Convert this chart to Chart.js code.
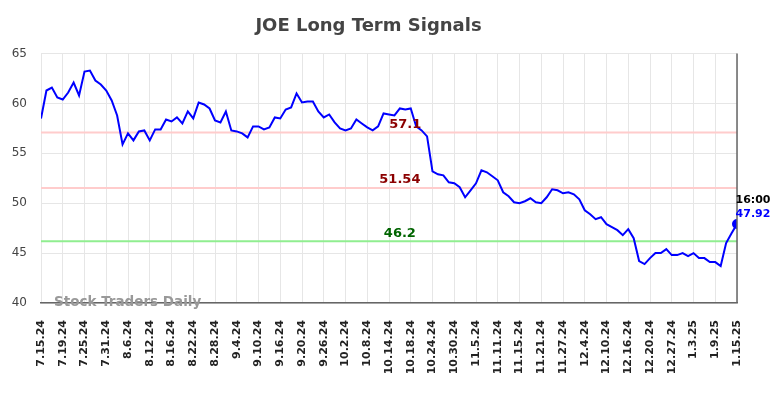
<!DOCTYPE html>
<html>
<head>
<meta charset="utf-8">
<script src="https://cdn.jsdelivr.net/npm/chart.js@4.4.0/dist/chart.umd.min.js"></script>
<style>
  html, body { margin: 0; padding: 0; background: #fff; }
  #wrap { width: 784px; height: 398px; }
</style>
</head>
<body>
<div id="wrap"><canvas id="myChart" width="784" height="398"></canvas></div>
<script>
const tickLabels = ["7.15.24", "7.19.24", "7.25.24", "7.31.24", "8.6.24", "8.12.24", "8.16.24", "8.22.24", "8.28.24",
    "9.4.24", "9.10.24", "9.16.24", "9.20.24", "9.26.24", "10.2.24", "10.8.24", "10.14.24", "10.18.24", "10.24.24",
    "10.30.24", "11.5.24", "11.11.24", "11.15.24", "11.21.24", "11.27.24", "12.4.24", "12.10.24", "12.16.24",
    "12.20.24", "12.27.24", "1.3.25", "1.9.25", "1.15.25"];

// closing prices, one per trading day
const prices = [58.5, 61.3, 61.6, 60.6, 60.4, 61.1, 62.1, 60.8, 63.2, 63.3,
    62.3, 61.9, 61.3, 60.3, 58.8, 55.9, 57.0, 56.3, 57.2, 57.3,
    56.3, 57.4, 57.4, 58.4, 58.2, 58.6, 58.0, 59.2, 58.5, 60.1,
    59.9, 59.5, 58.3, 58.1, 59.2, 57.3, 57.2, 57.0, 56.6, 57.7,
    57.7, 57.4, 57.6, 58.6, 58.5, 59.4, 59.6, 61.0, 60.1, 60.2,
    60.2, 59.2, 58.6, 58.9, 58.1, 57.5, 57.3, 57.5, 58.4, 58.0,
    57.6, 57.3, 57.7, 59.0, 58.9, 58.8, 59.5, 59.4, 59.5, 57.7,
    57.3, 56.7, 53.2, 52.9, 52.8, 52.1, 52.0, 51.6, 50.6, 51.3,
    52.0, 53.3, 53.1, 52.7, 52.3, 51.1, 50.7, 50.1, 50.0, 50.2,
    50.5, 50.1, 50.0, 50.6, 51.4, 51.3, 51.0, 51.1, 50.9, 50.4,
    49.3, 48.9, 48.4, 48.6, 47.9, 47.6, 47.3, 46.8, 47.4, 46.5,
    44.2, 43.9, 44.5, 45.0, 45.0, 45.4, 44.8, 44.8, 45.0, 44.7,
    45.0, 44.5, 44.5, 44.1, 44.1, 43.7, 46.0, 47.0, 47.92];

const resistanceLevels = [57.1, 51.54];
const supportLevels = [46.2];
const lastTime = "16:00";

const daysPerTick = 4;
const font = "'DejaVu Sans', sans-serif";

const signalLines = {
    id: 'signalLines',
    beforeDatasetsDraw(chart) {
        const {ctx, chartArea, scales: {y}} = chart;
        ctx.save();
        ctx.lineWidth = 2;
        resistanceLevels.forEach(v => {
            ctx.strokeStyle = '#ffcccc';
            ctx.beginPath();
            ctx.moveTo(chartArea.left, y.getPixelForValue(v));
            ctx.lineTo(chartArea.right, y.getPixelForValue(v));
            ctx.stroke();
        });
        supportLevels.forEach(v => {
            ctx.strokeStyle = '#90ee90';
            ctx.beginPath();
            ctx.moveTo(chartArea.left, y.getPixelForValue(v));
            ctx.lineTo(chartArea.right, y.getPixelForValue(v));
            ctx.stroke();
        });
        ctx.restore();
    },
    afterDatasetsDraw(chart) {
        const {ctx, chartArea, scales: {x, y}} = chart;
        ctx.save();
        ctx.font = "bold 13px " + font;
        ctx.textAlign = 'center';
        ctx.textBaseline = 'middle';
        ctx.fillStyle = '#8b0000';
        ctx.fillText(String(resistanceLevels[0]), x.getPixelForValue(67), y.getPixelForValue(resistanceLevels[0]) - 8);
        ctx.fillText(String(resistanceLevels[1]), x.getPixelForValue(66), y.getPixelForValue(resistanceLevels[1]) - 8);
        ctx.fillStyle = '#006400';
        ctx.fillText(String(supportLevels[0]), x.getPixelForValue(66), y.getPixelForValue(supportLevels[0]) - 8);

        // right border
        ctx.strokeStyle = '#666';
        ctx.lineWidth = 1.5;
        ctx.beginPath();
        ctx.moveTo(chartArea.right, chartArea.top);
        ctx.lineTo(chartArea.right, chartArea.bottom);
        ctx.stroke();

        // last value label
        const last = prices.length - 1;
        const px = x.getPixelForValue(last);
        const py = y.getPixelForValue(prices[last]);
        ctx.font = "bold 11px " + font;
        ctx.fillStyle = '#000';
        ctx.fillText(lastTime, px + 16, py - 24);
        ctx.fillStyle = '#0000ff';
        ctx.fillText(prices[last].toFixed(2), px + 16, py - 10);

        // watermark
        ctx.font = "bold 13.5px " + font;
        ctx.fillStyle = '#999';
        ctx.textAlign = 'left';
        ctx.fillText('Stock Traders Daily', chartArea.left + 13, chartArea.bottom - 1);
        ctx.restore();
    }
};

const ctx = document.getElementById('myChart').getContext('2d');
const mychart = new Chart(ctx, {
    type: 'line',
    data: {
        datasets: [{
            label: 'JOE',
            data: prices.map((p, i) => ({x: i, y: p})),
            borderColor: '#0000ff',
            backgroundColor: '#0000ff',
            borderWidth: 2,
            tension: 0,
            pointRadius: prices.map((p, i) => i === prices.length - 1 ? 4 : 0),
            pointHoverRadius: 0
        }]
    },
    options: {
        responsive: false,
        animation: false,
        events: [],
        layout: {
            padding: {top: 0, left: 0, right: 47, bottom: 0}
        },
        scales: {
            x: {
                type: 'linear',
                min: 0,
                max: prices.length - 1,
                afterFit(scale) { scale.height = 95; },
                afterBuildTicks(scale) {
                    scale.ticks = tickLabels.map((t, i) => ({value: i * daysPerTick}));
                },
                ticks: {
                    autoSkip: false,
                    maxRotation: 90,
                    minRotation: 90,
                    padding: 17,
                    color: '#222',
                    font: {family: font, size: 11, weight: 'bold'},
                    callback: (v) => tickLabels[v / daysPerTick]
                },
                grid: {color: '#e6e6e6', drawTicks: false},
                border: {color: '#666', width: 1.5}
            },
            y: {
                min: 40,
                max: 65,
                afterFit(scale) { scale.width = 41; },
                ticks: {
                    stepSize: 5,
                    padding: 14,
                    color: '#444',
                    font: {family: font, size: 12}
                },
                grid: {color: '#e6e6e6', drawTicks: false},
                border: {display: false}
            }
        },
        plugins: {
            legend: {display: false},
            tooltip: {enabled: false},
            title: {
                display: true,
                text: 'JOE Long Term Signals',
                color: '#444',
                font: {family: font, size: 18, weight: 'bold'},
                padding: {top: 16, bottom: 16}
            }
        }
    },
    plugins: [signalLines]
});
</script>
</body>
</html>
